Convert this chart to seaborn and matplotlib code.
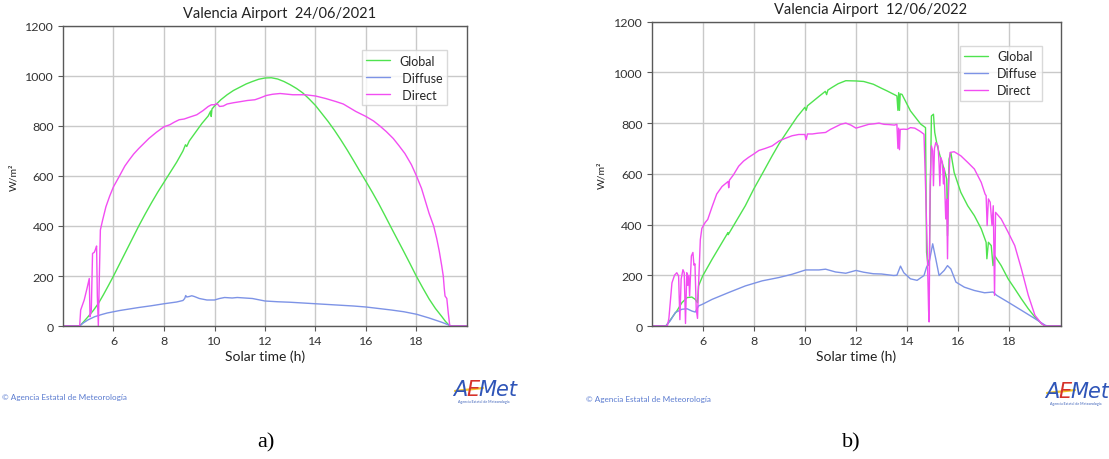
import matplotlib
matplotlib.use('Agg')
import matplotlib.pyplot as plt
import seaborn as sns
import numpy as np

# ---------------- panel a) 24/06/2021 ----------------
t_dir_a = [4.0, 4.66, 4.7, 4.84, 4.95, 5.04, 5.07, 5.12, 5.17, 5.24, 5.3, 5.33, 5.36, 5.4, 5.44,
           5.48, 5.57, 5.7, 5.85, 6.0, 6.22, 6.45, 6.62, 6.8, 7.0, 7.2, 7.4, 7.7, 8.0, 8.23, 8.4,
           8.6, 8.8, 9.0, 9.3, 9.55, 9.75, 9.88, 10.0, 10.1, 10.2, 10.35, 10.5, 10.75, 11.0, 11.3,
           11.6, 11.8, 12.05, 12.3, 12.6, 12.9, 13.1, 13.6, 14.0, 14.4, 14.8, 15.1, 15.4, 15.6,
           16.0, 16.3, 16.55, 16.8, 17.08, 17.3, 17.54, 17.8, 18.0, 18.2, 18.35, 18.5, 18.68,
           18.8, 18.9, 19.0, 19.06, 19.1, 19.13, 19.2, 19.26, 19.32, 20.0]
v_dir_a = [0, 0, 64, 104, 150, 190, 37, 60, 290, 295, 310, 320, 120, 0, 200,
           384, 424, 477, 520, 557, 597, 640, 664, 688, 710, 730, 750, 775, 797, 805, 815,
           825, 828, 835, 845, 862, 878, 885, 885, 890, 878, 880, 888, 893, 897, 902,
           905, 912, 922, 927, 930, 927, 925, 925, 920, 910, 898, 888, 870, 858,
           838, 820, 800, 778, 750, 722, 690, 645, 600, 550, 500, 450, 400,
           350, 300, 240, 200, 150, 120, 110, 50, 0, 0]

t_glo_a = [4.0, 4.66, 4.8, 5.0, 5.2, 5.4, 5.6, 5.8, 6.0, 6.25, 6.5, 6.75, 7.0, 7.25, 7.5, 7.75,
           8.0, 8.25, 8.5, 8.75, 8.85, 8.9, 9.0, 9.25, 9.5, 9.75, 9.85, 9.87, 9.9, 10.0, 10.25,
           10.5, 10.75, 11.0, 11.25, 11.5, 11.75, 12.0, 12.25, 12.5, 12.75, 13.0, 13.25, 13.5,
           13.75, 14.0, 14.25, 14.5, 14.75, 15.0, 15.25, 15.5, 15.75, 16.0, 16.25, 16.5, 16.75,
           17.0, 17.25, 17.5, 17.75, 18.0, 18.25, 18.5, 18.75, 19.0, 19.15, 19.3, 19.35, 20.0]
v_glo_a = [0, 0, 15, 38, 62, 90, 125, 162, 200, 250, 300, 350, 400, 447, 492, 535,
           575, 615, 655, 700, 725, 718, 740, 775, 810, 840, 860, 838, 868, 880, 905,
           925, 942, 955, 968, 978, 987, 992, 993, 988, 978, 965, 950, 932,
           908, 882, 850, 818, 783, 745, 705, 663, 620, 578, 535, 490, 442,
           393, 345, 297, 248, 198, 152, 108, 70, 38, 18, 2, 0, 0]

t_dif_a = [4.0, 4.66, 4.8, 5.0, 5.25, 5.5, 5.75, 6.0, 6.25, 6.5, 6.75, 7.0, 7.5, 8.0, 8.5, 8.75,
           8.82, 8.86, 8.9, 9.0, 9.1, 9.2, 9.4, 9.7, 10.0, 10.2, 10.4, 10.7, 10.9, 11.2, 11.5,
           11.8, 12.0, 12.5, 13.0, 13.5, 14.0, 14.5, 15.0, 15.5, 16.0, 16.5, 17.0, 17.5, 18.0,
           18.5, 19.0, 19.3, 19.4, 20.0]
v_dif_a = [0, 0, 12, 25, 37, 45, 52, 57, 62, 66, 70, 74, 81, 89, 96, 102,
           110, 122, 116, 118, 121, 118, 110, 104, 104, 110, 114, 112, 114, 112, 110,
           104, 100, 97, 95, 92, 89, 86, 83, 80, 76, 70, 64, 57, 47,
           32, 15, 3, 0, 0]

# ---------------- panel b) 12/06/2022 ----------------
t_dir_b = [4.0, 4.62, 4.68, 4.8, 4.9, 4.99, 5.06, 5.11, 5.16, 5.23, 5.28, 5.33, 5.38, 5.42, 5.46,
           5.49, 5.56, 5.62, 5.66, 5.7, 5.75, 5.8, 5.84, 5.91, 5.97, 6.1, 6.2, 6.37, 6.55, 6.76,
           7.0, 7.02, 7.05, 7.2, 7.41, 7.6, 7.8, 8.0, 8.2, 8.45, 8.72, 9.0, 9.24, 9.5, 9.76,
           10.0, 10.05, 10.1, 10.29, 10.5, 10.81, 11.0, 11.2, 11.4, 11.6, 11.8, 12.0, 12.2, 12.5,
           12.7, 12.9, 13.1, 13.3, 13.5, 13.6, 13.64, 13.67, 13.7, 13.73, 13.87, 14.0, 14.13,
           14.3, 14.5, 14.66, 14.72, 14.79, 14.84, 14.86, 14.9, 14.95, 15.0, 15.03, 15.07, 15.12,
           15.21, 15.25, 15.28, 15.32, 15.38, 15.42, 15.45, 15.51, 15.55, 15.58, 15.62, 15.68,
           15.84, 16.1, 16.37, 16.63, 16.9, 17.05, 17.09, 17.13, 17.18, 17.25, 17.32, 17.37,
           17.42, 17.46, 17.68, 17.95, 18.21, 18.47, 18.74, 19.0, 19.26, 19.4, 20.0]
v_dir_b = [0, 0, 30, 170, 200, 210, 197, 25, 185, 222, 210, 10, 210, 160, 200,
           118, 276, 290, 240, 245, 66, 30, 160, 340, 385, 408, 420, 470, 520, 550,
           570, 545, 575, 595, 630, 650, 665, 678, 692, 700, 710, 730, 740, 750, 755,
           755, 735, 757, 757, 760, 763, 775, 785, 795, 800, 792, 780, 786, 795,
           797, 800, 795, 794, 792, 795, 700, 780, 695, 775, 776, 775, 782,
           780, 768, 756, 553, 290, 60, 16, 553, 710, 690, 553, 700, 723,
           710, 640, 553, 664, 645, 560, 620, 422, 500, 265, 553, 684,
           687, 671, 645, 619, 566, 520, 514, 396, 501, 488, 396, 474,
           121, 448, 422, 370, 317, 225, 121, 42, 9, 0, 0]

t_glo_b = [4.0, 4.56, 4.8, 4.99, 5.19, 5.39, 5.58, 5.71, 5.8, 5.84, 6.0, 6.37, 6.99, 7.0, 7.67,
           8.0, 8.36, 8.72, 9.0, 9.37, 9.7, 10.0, 10.05, 10.1, 10.55, 10.8, 10.85, 10.9, 11.07,
           11.3, 11.6, 12.0, 12.3, 12.68, 13.0, 13.21, 13.6, 13.64, 13.67, 13.7, 13.73, 13.8,
           14.13, 14.53, 14.72, 14.76, 14.82, 14.87, 14.95, 15.03, 15.08, 15.18, 15.32, 15.45,
           15.55, 15.58, 15.64, 15.71, 15.84, 16.1, 16.37, 16.63, 16.9, 17.09, 17.12, 17.18,
           17.29, 17.36, 17.42, 17.68, 17.95, 18.21, 18.47, 18.74, 19.0, 19.26, 19.4, 20.0]
v_glo_b = [0, 0, 33, 59, 92, 112, 114, 105, 92, 158, 197, 263, 368, 360, 474,
           540, 605, 671, 720, 776, 825, 862, 850, 868, 905, 925, 912, 930, 941,
           955, 967, 966, 964, 953, 937, 927, 907, 850, 920, 850, 915, 913,
           848, 796, 782, 291, 238, 265, 828, 835, 763, 710, 658, 619,
           579, 356, 658, 684, 605, 527, 474, 435, 383, 330, 265, 330,
           317, 238, 278, 238, 186, 147, 107, 68, 35, 9, 0, 0]

t_dif_b = [4.0, 4.56, 4.73, 4.93, 5.19, 5.39, 5.58, 5.71, 5.84, 6.0, 6.37, 7.02, 7.67, 8.33,
           8.98, 9.5, 10.03, 10.55, 10.81, 11.2, 11.6, 12.0, 12.3, 12.68, 13.0, 13.47, 13.6,
           13.74, 13.87, 14.13, 14.39, 14.66, 14.76, 14.86, 15.0, 15.12, 15.25, 15.45, 15.58,
           15.71, 15.91, 16.24, 16.63, 17.03, 17.36, 17.5, 17.95, 18.47, 19.0, 19.4, 19.5, 20.0]
v_dif_b = [0, 0, 20, 53, 66, 68, 59, 55, 79, 86, 105, 132, 158, 178,
           191, 204, 221, 221, 224, 213, 208, 219, 212, 206, 205, 199, 200,
           236, 210, 186, 180, 199, 232, 250, 324, 265, 199, 219, 238,
           225, 173, 153, 140, 131, 134, 121, 94, 62, 29, 3, 0, 0]

titles = ['Valencia Airport  24/06/2021', 'Valencia Airport  12/06/2022']
legend_labels = [['Global', ' Diffuse', ' Direct'], ['Global', 'Diffuse', 'Direct']]
panel_tags = ['a)', 'b)']
colors = ['#4fe34f', '#7d93e6', '#f24df2']

sns.set_style('whitegrid')
plt.rcParams['font.family'] = ['Lato', 'DejaVu Sans']

fig = plt.figure(figsize=(11.09, 4.6), dpi=100)
W, H = 1109, 460


def px(x0, y0, x1, y1):
    return [x0 / W, 1 - y1 / H, (x1 - x0) / W, (y1 - y0) / H]


ax_a = fig.add_axes(px(63, 27, 467, 327))
ax_b = fig.add_axes(px(651.5, 22.6, 1060.5, 327))

panels = [
    (ax_a, [(t_glo_a, v_glo_a), (t_dif_a, v_dif_a), (t_dir_a, v_dir_a)]),
    (ax_b, [(t_glo_b, v_glo_b), (t_dif_b, v_dif_b), (t_dir_b, v_dir_b)]),
]

for i, (ax, series) in enumerate(panels):
    for (t, v), c, lab in zip(series, colors, legend_labels[i]):
        sns.lineplot(x=np.array(t), y=np.array(v), ax=ax, color=c, linewidth=1.0,
                     label=lab, estimator=None, sort=False)
    ax.set_xlim(4, 20)
    ax.set_ylim(0, 1200)
    ax.set_xticks([6, 8, 10, 12, 14, 16, 18])
    ax.set_yticks([0, 200, 400, 600, 800, 1000, 1200])
    ax.grid(True, color='#c9c9c9', linewidth=1.0)
    for s in ax.spines.values():
        s.set_visible(True)
        s.set_color('#595959')
        s.set_linewidth(1.0)
    ax.tick_params(bottom=True, left=True, length=3.5, width=0.8, color='#595959',
                   labelsize=8.9, labelcolor='#333333', pad=3)
    ax.set_xlabel('Solar time (h)', fontsize=10, color='#222222', labelpad=2.5)
    ax.set_ylabel('W/m²', fontsize=7.5, color='#222222', labelpad=5)

ax_a.legend(loc='upper right', bbox_to_anchor=(453.5 / W, 1 - 45 / H), bbox_transform=fig.transFigure,
            fontsize=9, handlelength=1.9, handletextpad=0.75, labelspacing=0.4, borderpad=0.35,
            frameon=True, edgecolor='#d0d0d0', fancybox=False)
ax_b.legend(loc='upper right', bbox_to_anchor=(1048 / W, 1 - 40.7 / H), bbox_transform=fig.transFigure,
            fontsize=9, handlelength=1.9, handletextpad=0.75, labelspacing=0.4, borderpad=0.35,
            frameon=True, edgecolor='#d0d0d0', fancybox=False)

# titles
fig.text(280 / W, 1 - 14 / H, titles[0], ha='center', va='center', fontsize=10.5, color='#222222')
fig.text(871 / W, 1 - 10 / H, titles[1], ha='center', va='center', fontsize=10.5, color='#222222')

# source notes and logos
for x0, y0 in [(2, 398), (586, 400)]:
    fig.text(x0 / W, 1 - y0 / H, '© Agencia Estatal de Meteorología', ha='left', va='center',
             fontsize=5.9, color='#5a7bd0')

for x0, y0 in [(453, 390), (1045, 392)]:
    fig.text(x0 / W, 1 - y0 / H, 'A', ha='left', va='center', fontsize=15, color='#2f55b8',
             style='italic', family=['DejaVu Sans'])
    fig.text((x0 + 13) / W, 1 - y0 / H, 'E', ha='left', va='center', fontsize=15, color='#d6322a',
             style='italic', family=['DejaVu Sans'])
    fig.text((x0 + 25) / W, 1 - y0 / H, 'Met', ha='left', va='center', fontsize=15, color='#2f55b8',
             style='italic', family=['DejaVu Sans'])
    fig.add_artist(plt.Line2D([(x0 + 2) / W, (x0 + 30) / W], [1 - (y0 + 2) / H, 1 - (y0 - 1) / H],
                              color='#f2c52a', linewidth=1.6))
    fig.text((x0 + 31) / W, 1 - (y0 + 12) / H, 'Agencia Estatal de Meteorología', ha='center',
             va='center', fontsize=2.6, color='#3a5fb8')

fig.text(266 / W, 1 - 443 / H, panel_tags[0], ha='center', va='center', fontsize=16,
         family=['Liberation Serif'], color='black')
fig.text(851 / W, 1 - 443 / H, panel_tags[1], ha='center', va='center', fontsize=16,
         family=['Liberation Serif'], color='black')

fig.savefig('out.png', dpi=100)
